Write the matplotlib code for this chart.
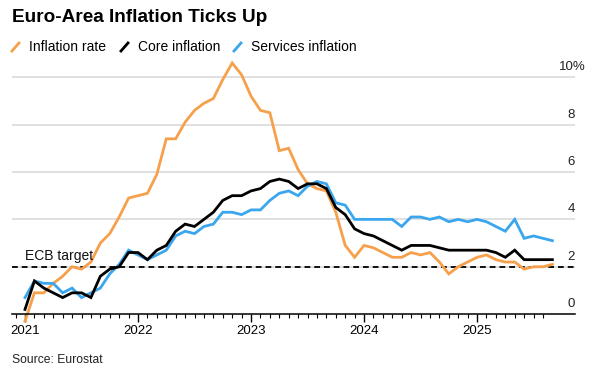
import matplotlib
matplotlib.use("Agg")
import matplotlib.pyplot as plt
from matplotlib.lines import Line2D
import matplotlib.transforms as mtransforms

plt.rcParams['font.family'] = ['Liberation Sans', 'DejaVu Sans']

# Monthly data, Dec 2020 .. Aug 2025 (plotted at month end)
headline = [-0.3,
            0.9, 0.9, 1.3, 1.6, 2.0, 1.9, 2.2, 3.0, 3.4, 4.1, 4.9, 5.0,
            5.1, 5.9, 7.4, 7.4, 8.1, 8.6, 8.9, 9.1, 9.9, 10.6, 10.1, 9.2,
            8.6, 8.5, 6.9, 7.0, 6.1, 5.5, 5.3, 5.2, 4.3, 2.9, 2.4, 2.9,
            2.8, 2.6, 2.4, 2.4, 2.6, 2.5, 2.6, 2.2, 1.7, 2.0, 2.2, 2.4,
            2.5, 2.3, 2.2, 2.2, 1.9, 2.0, 2.0, 2.1]
core = [0.2,
        1.4, 1.1, 0.9, 0.7, 0.9, 0.9, 0.7, 1.6, 1.9, 2.0, 2.6, 2.6,
        2.3, 2.7, 2.9, 3.5, 3.8, 3.7, 4.0, 4.3, 4.8, 5.0, 5.0, 5.2,
        5.3, 5.6, 5.7, 5.6, 5.3, 5.5, 5.5, 5.3, 4.5, 4.2, 3.6, 3.4,
        3.3, 3.1, 2.9, 2.7, 2.9, 2.9, 2.9, 2.8, 2.7, 2.7, 2.7, 2.7,
        2.7, 2.6, 2.4, 2.7, 2.3, 2.3, 2.3, 2.3]
services = [0.7,
            1.4, 1.3, 1.3, 0.9, 1.1, 0.7, 0.9, 1.1, 1.7, 2.1, 2.7, 2.5,
            2.3, 2.5, 2.7, 3.3, 3.5, 3.4, 3.7, 3.8, 4.3, 4.3, 4.2, 4.4,
            4.4, 4.8, 5.1, 5.2, 5.0, 5.4, 5.6, 5.5, 4.7, 4.6, 4.0, 4.0,
            4.0, 4.0, 4.0, 3.7, 4.1, 4.1, 4.0, 4.1, 3.9, 4.0, 3.9, 4.0,
            3.9, 3.7, 3.5, 4.0, 3.2, 3.3, 3.2, 3.1]
year_labels = ['2021', '2022', '2023', '2024', '2025']
y_ticks = [0, 2, 4, 6, 8, 10]
ecb_target = 2

ORANGE = '#F7A04B'
BLUE = '#3AA6EE'
BLACK = '#000000'

fig = plt.figure(figsize=(6.04, 3.85), dpi=100)
ax = fig.add_axes([12/604, 59/385, (575-12)/604, 272.5/385])

months = list(range(len(headline)))
ax.set_xlim(-1.38, 58.4)
ax.set_ylim(-0.5, 11)

# gridlines
for v in y_ticks[1:]:
    ax.axhline(v, color='#DADADA', lw=1.2, zorder=1)
ax.axhline(ecb_target, color='black', lw=1.3, ls=(0, (3.2, 2.2)), zorder=2)

ax.plot(months, headline, color=ORANGE, lw=2, zorder=3, solid_joinstyle='miter')
ax.plot(months, services, color=BLUE, lw=2, zorder=4, solid_joinstyle='miter')
ax.plot(months, core, color=BLACK, lw=2, zorder=5, solid_joinstyle='miter')

ax.text(0, ecb_target + 0.15, 'ECB target', fontsize=10, ha='left', va='bottom', color='#111111')

# spines
for s in ['top', 'right', 'left']:
    ax.spines[s].set_visible(False)
ax.spines['bottom'].set_position(('data', 0))
ax.spines['bottom'].set_linewidth(1.1)
ax.spines['bottom'].set_zorder(6)

ax.set_xticks([0, 12, 24, 36, 48])
ax.set_xticklabels(year_labels, fontsize=9.5)
ax.set_xticks(list(range(-1, 56)), minor=True)
ax.tick_params(axis='x', which='major', length=6, width=1, direction='out', pad=2, colors='black')
ax.tick_params(axis='x', which='minor', length=3, width=0.8, direction='out')
ax.set_yticks([])

# right-side y labels above gridlines
trans = mtransforms.blended_transform_factory(ax.transAxes, ax.transData)
off = mtransforms.offset_copy(trans, fig=fig, x=0, y=4, units='dots')
off_pct = mtransforms.offset_copy(trans, fig=fig, x=11, y=4, units='dots')
for v in y_ticks:
    if v == 10:
        ax.text(1.0, v, f'{v}%', transform=off_pct, ha='right', va='bottom', fontsize=9.5, color='#222222')
    else:
        ax.text(1.0, v, str(v), transform=off, ha='right', va='bottom', fontsize=9.5, color='#222222')

# title
fig.text(12/604, 1 - 18/385, 'Euro-Area Inflation Ticks Up', fontsize=13.7, fontweight='bold', ha='left', va='center')

# legend
legend_items = [('Inflation rate', ORANGE, 12), ('Core inflation', BLACK, 121), ('Services inflation', BLUE, 234)]
ly = 1 - 47/385
for label, col, xp in legend_items:
    x0 = xp / 604
    fig.add_artist(Line2D([x0, x0 + 7/604], [ly - 4/385, ly + 4/385], color=col, lw=2.0, transform=fig.transFigure))
    fig.text(x0 + 17/604, ly, label, fontsize=10, ha='left', va='center')

fig.text(12/604, 1 - 360/385, 'Source: Eurostat', fontsize=8.7, ha='left', va='center', color='#222222')

fig.savefig('out.png', dpi=100)
